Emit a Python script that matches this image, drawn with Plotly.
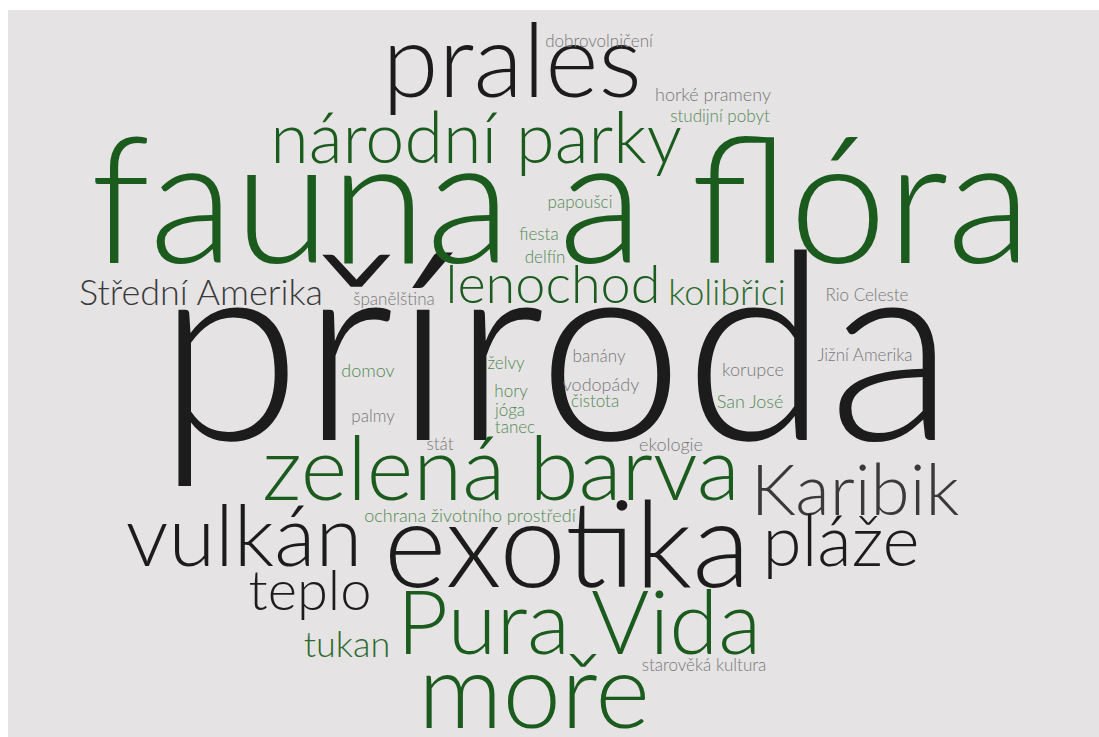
import plotly.graph_objects as go

# ---- data: words, their weights (font size in px) and colour group ----
words = ["příroda", "fauna a flóra", "prales", "národní parky", "zelená barva",
         "exotika", "Pura Vida", "moře", "vulkán", "Karibik", "pláže", "lenochod",
         "teplo", "Střední Amerika", "kolibřici", "tukan",
         "dobrovolničení", "horké prameny", "studijní pobyt", "papoušci", "fiesta",
         "delfín", "španělština", "Rio Celeste", "banány", "Jižní Amerika", "želvy",
         "domov", "korupce", "vodopády", "hory", "čistota", "San José", "jóga",
         "palmy", "tanec", "stát", "ekologie", "ochrana životního prostředí",
         "starověká kultura"]
weights = [262, 175, 102, 70, 89,
           120, 89, 105, 85, 71, 71, 54,
           56, 36, 36, 36,
           17, 18, 17, 17, 17,
           17, 17, 17, 17, 17, 17,
           18, 18, 18, 17, 17, 18, 17,
           17, 17, 17, 18, 18,
           17]
groups = ["black", "green", "black", "green", "green",
          "black", "green", "green", "black", "dgray", "black", "green",
          "black", "dgray", "mgreen", "mgreen",
          "gray", "gray", "lgreen", "lgreen", "lgreen",
          "lgreen", "gray", "gray", "gray", "gray", "lgreen",
          "lgreen", "gray", "gray", "lgreen", "lgreen", "lgreen", "lgreen",
          "gray", "lgreen", "gray", "gray", "lgreen",
          "gray"]

# ---- layout of the cloud: word centre x and baseline y (pixels) ----
pos_x = [556, 561, 512, 476, 501,
         567, 579, 534, 244, 855, 841, 553,
         310, 201, 727, 347,
         599, 713, 720, 580, 539,
         545, 394, 867, 599, 865, 506,
         368, 753, 601, 511, 595, 750, 510,
         373, 515, 440, 671, 470,
         704]
pos_base = [440, 263, 97, 163, 500,
            587, 654, 728, 566, 515, 566, 303,
            610, 305, 305, 657,
            47, 101, 122, 208, 240,
            263, 305, 301, 362, 361, 369,
            377, 376, 391, 397, 407, 408, 416,
            422, 433, 450, 451, 522,
            671]

palette = {
    "black": "#1c1c1c",
    "dgray": "#3a3a3a",
    "green": "#1b5c1e",
    "mgreen": "#2c6b2e",
    "lgreen": "#538a53",
    "gray": "#787878",
}

SCALE = 1.0
sizes = [w * SCALE for w in weights]
ys = [b - 0.25 * s for b, s in zip(pos_base, sizes)]
colors = [palette[g] for g in groups]

W, H = 1099, 737
fig = go.Figure()
fig.add_trace(go.Scatter(
    x=pos_x, y=ys, text=words, mode="text",
    textposition="middle center",
    textfont=dict(family="Lato", size=sizes, color=colors, weight=300),
    hoverinfo="skip", cliponaxis=False, showlegend=False,
))

fig.add_shape(type="rect", x0=8, x1=W, y0=10, y1=H, xref="x", yref="y",
              fillcolor="#e5e3e4", line=dict(width=0), layer="below")

fig.update_layout(
    width=W, height=H,
    margin=dict(l=0, r=0, t=0, b=0),
    paper_bgcolor="white", plot_bgcolor="white",
    xaxis=dict(range=[0, W], visible=False, fixedrange=True),
    yaxis=dict(range=[H, 0], visible=False, fixedrange=True),
)

fig.write_html("out.html", config={"displayModeBar": False},
               post_script="document.body.style.margin='0';document.body.style.overflow='hidden';")
